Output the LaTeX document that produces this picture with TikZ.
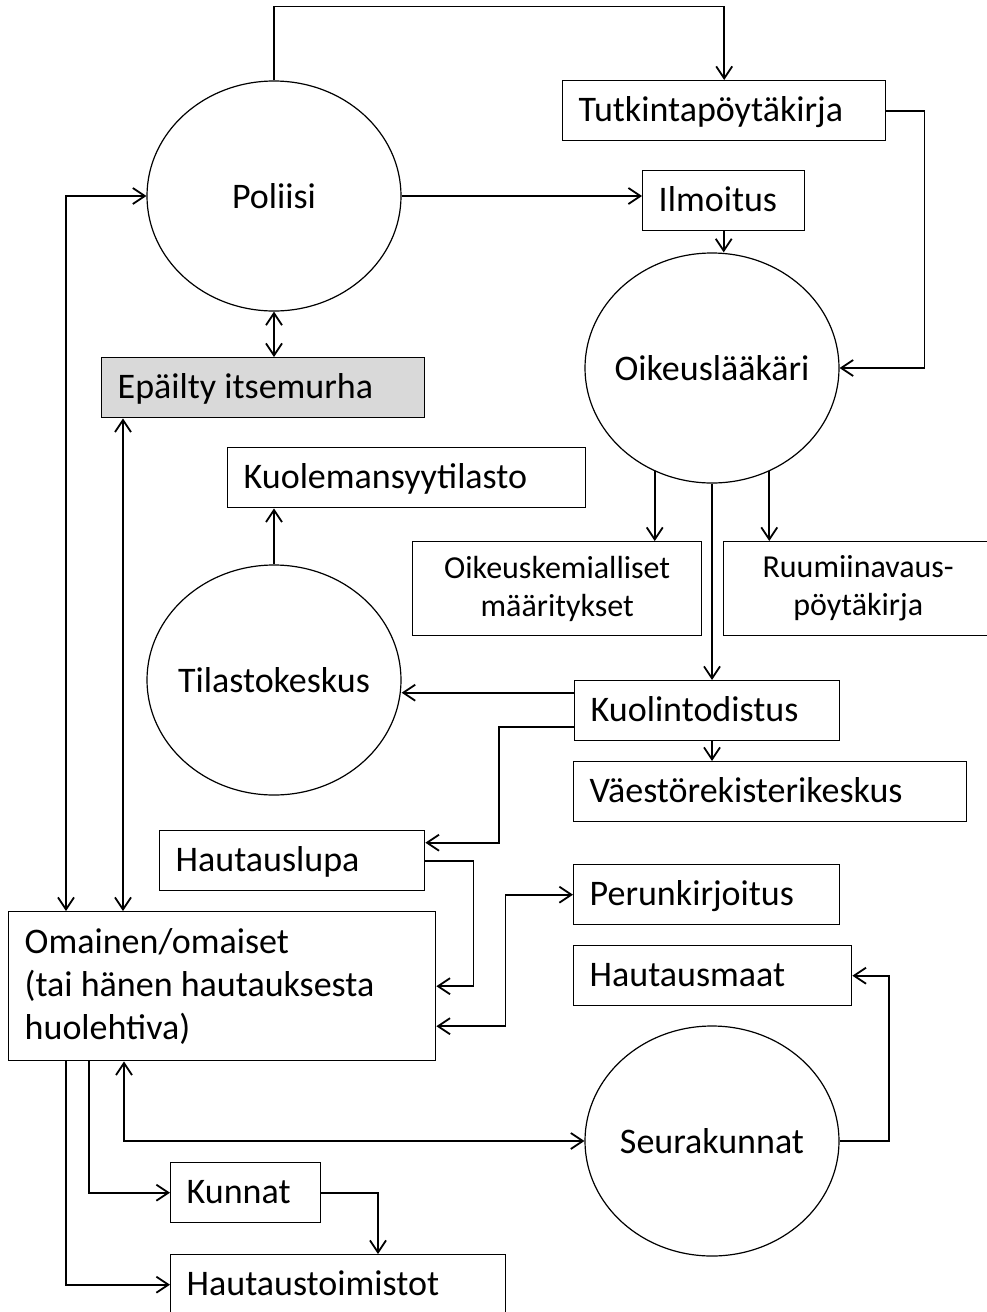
\documentclass[tikz,border=0pt]{standalone}
\usepackage{fontspec}
\setmainfont{Carlito}
\usetikzlibrary{arrows.meta}
\usetikzlibrary{shapes.geometric}

\begin{document}
\begin{tikzpicture}[x=1pt, y=-1pt, >={Straight Barb[length=12pt,width=16pt]},
  font=\fontsize{36}{43}\selectfont,
  base/.style={draw, line width=1.4pt, anchor=north west, inner xsep=16pt, inner ysep=0pt, align=flush left},
  box/.style={base, minimum height=60pt, text height=28pt, text depth=7pt},
  pair/.style={draw, line width=1.4pt, anchor=north west, inner sep=0pt, minimum height=94pt, align=flush center, font=\fontsize{32}{38}\selectfont},
  ell/.style={ellipse, draw, line width=1.2pt, minimum width=254pt, minimum height=230pt, inner sep=0pt},
  link/.style={line width=1.8pt}]

\useasboundingbox (0,0) rectangle (986,1312);

\node[ell] (poliisi) at (274,196) {\makebox[0pt]{Poliisi}};
\node[box, text width=291pt] (tutkinta) at (562,80) {Tutkintapöytäkirja};
\node[box, text width=130pt] (ilmoitus) at (642,170) {Ilmoitus};
\node[ell] (oikeus) at (712,368) {\makebox[0pt]{Oikeuslääkäri}};
\node[box, fill=black!15, text width=291pt] (epaily) at (101,357) {Epäilty itsemurha};
\node[box, text width=326pt] (kuolsyy) at (227,447) {Kuolemansyytilasto};
\node[pair, text width=289pt] (kemia) at (412,541) {Oikeuskemialliset\\määritykset};
\node[pair, text width=269pt] (ruumis) at (723,541) {Ruumiinavaus-\\pöytäkirja};
\node[ell] (tilasto) at (274,680) {\makebox[0pt]{Tilastokeskus}};
\node[box, text width=233pt] (kuolin) at (574,680) {Kuolintodistus};
\node[box, text width=361pt] (vaesto) at (573,761) {Väestörekisterikeskus};
\node[box, text width=233pt] (lupa) at (159,830) {Hautauslupa};
\node[box, text width=234pt] (perunk) at (573,864) {Perunkirjoitus};
\node[box, text width=246pt] (maat) at (573,945) {Hautausmaat};
\node[base, minimum height=149pt, text width=395pt] (omainen) at (8,911) {Omainen/omaiset\\(tai hänen hautauksesta\\huolehtiva)};
\node[ell] (seura) at (712,1141) {\makebox[0pt]{Seurakunnat}};
\node[box, text width=118pt] (kunnat) at (170,1162) {Kunnat};
\node[box, text width=303pt] (toimisto) at (170,1254) {Hautaustoimistot};

\draw[link, ->] (poliisi.north) -- ++(0,-74) -| (tutkinta.north);
\draw[link, ->] (poliisi.east) -- (poliisi.east -| ilmoitus.west);
\draw[link, ->] (ilmoitus.south) -- (ilmoitus.south |- oikeus.north);
\draw[link, ->] (tutkinta.east) -- ++(38,0) |- (oikeus.east);
\draw[link, <->] (poliisi.south) -- (poliisi.south |- epaily.north);
\draw[link, <->] (poliisi.west) -| ([xshift=58pt]omainen.north west);
\draw[link, <->] ([xshift=22pt]epaily.south west) -- ([xshift=22pt]epaily.south west |- omainen.north);

\draw[link, ->] (tilasto.north) -- (tilasto.north |- kuolsyy.south);
\draw[link, ->] (oikeus.-119) -- (oikeus.-119 |- kemia.north);
\draw[link, ->] (oikeus.-61) -- (oikeus.-61 |- ruumis.north);
\draw[link, ->] (oikeus.south) -- (oikeus.south |- kuolin.north);
\draw[link, ->] ([yshift=18pt]kuolin.west) -- ([yshift=18pt]kuolin.west -| tilasto.east);
\draw[link, ->] (oikeus.south |- kuolin.south) -- (oikeus.south |- vaesto.north);

\draw[link, ->] ([yshift=-16pt]kuolin.west) -- ++(-75,0) |- ([yshift=18pt]lupa.east);
\draw[link, ->] (lupa.east) -- ++(48,0) |- (omainen.east);
\draw[link, <->] ([yshift=-40pt]omainen.east) -- ++(69,0) |- (perunk.west);
\draw[link, ->] (seura.east) -- ++(49,0) |- (maat.east);

\draw[link, <->] ([xshift=116pt]omainen.south west) |- (seura.west);
\draw[link, ->] ([xshift=81pt]omainen.south west) |- (kunnat.west);
\draw[link, ->] ([xshift=58pt]omainen.south west) |- (toimisto.west);
\draw[link, ->] (kunnat.east) -| ([xshift=208pt]toimisto.north west);

\end{tikzpicture}
\end{document}
